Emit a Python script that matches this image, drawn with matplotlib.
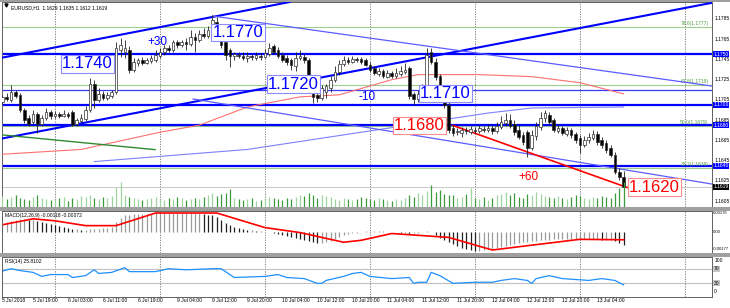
import numpy as np
import matplotlib.pyplot as plt
import matplotlib.transforms as mtransforms
from matplotlib.patches import Rectangle

# ============================================================
# EURUSD H1 chart (MT4 style) - price, volumes, MACD, RSI
# ============================================================

W, H = 730, 308

# ---- candles (bar index 0 = 5 Jul 11:00) ----
open_ = [1.17049, 1.17029, 1.17079, 1.17049, 1.17128, 1.17098, 1.16950, 1.16871, 1.16831, 1.16911,
         1.16812, 1.16871, 1.16930, 1.16891, 1.16911, 1.16891, 1.16911, 1.16930, 1.16812, 1.16841,
         1.16861, 1.16950, 1.17207, 1.17049, 1.17108, 1.17069, 1.17088, 1.17128, 1.17543, 1.17524,
         1.17543, 1.17346, 1.17415, 1.17445, 1.17415, 1.17435, 1.17445, 1.17484, 1.17524, 1.17563,
         1.17543, 1.17623, 1.17593, 1.17623, 1.17603, 1.17672, 1.17642, 1.17702, 1.17682, 1.17741,
         1.17820, 1.17761, 1.17623, 1.17543, 1.17484, 1.17494, 1.17484, 1.17464, 1.17484, 1.17464,
         1.17484, 1.17474, 1.17504, 1.17583, 1.17543, 1.17494, 1.17464, 1.17445, 1.17385, 1.17464,
         1.17474, 1.17445, 1.17247, 1.17098, 1.17069, 1.17128, 1.17168, 1.17247, 1.17326, 1.17405,
         1.17445, 1.17425, 1.17455, 1.17455, 1.17445, 1.17395, 1.17365, 1.17306, 1.17336, 1.17276,
         1.17316, 1.17286, 1.17306, 1.17326, 1.17365, 1.17108, 1.17059, 1.17108, 1.17118, 1.17524,
         1.17425, 1.17286, 1.17128, 1.16999, 1.16772, 1.16732, 1.16723, 1.16752, 1.16732, 1.16752,
         1.16742, 1.16762, 1.16752, 1.16772, 1.16742, 1.16782, 1.16821, 1.16851, 1.16812, 1.16752,
         1.16703, 1.16732, 1.16574, 1.16693, 1.16782, 1.16871, 1.16901, 1.16851, 1.16742, 1.16772,
         1.16713, 1.16752, 1.16713, 1.16673, 1.16604, 1.16653, 1.16673, 1.16713, 1.16653, 1.16624,
         1.16574, 1.16505, 1.16337, 1.16290]
close = [1.17029, 1.17079, 1.17059, 1.17128, 1.17088, 1.16950, 1.16851, 1.16812, 1.16911, 1.16812,
         1.16871, 1.16930, 1.16891, 1.16911, 1.16891, 1.16911, 1.16891, 1.16802, 1.16851, 1.16871,
         1.16950, 1.17207, 1.17049, 1.17108, 1.17069, 1.17098, 1.17128, 1.17563, 1.17593, 1.17563,
         1.17346, 1.17425, 1.17445, 1.17415, 1.17445, 1.17464, 1.17494, 1.17524, 1.17563, 1.17543,
         1.17623, 1.17593, 1.17623, 1.17603, 1.17672, 1.17642, 1.17702, 1.17682, 1.17741, 1.17840,
         1.17741, 1.17593, 1.17494, 1.17484, 1.17504, 1.17484, 1.17464, 1.17484, 1.17474, 1.17494,
         1.17474, 1.17514, 1.17563, 1.17524, 1.17484, 1.17445, 1.17425, 1.17395, 1.17464, 1.17484,
         1.17445, 1.17247, 1.17079, 1.17069, 1.17168, 1.17187, 1.17247, 1.17326, 1.17405, 1.17445,
         1.17425, 1.17455, 1.17445, 1.17425, 1.17395, 1.17346, 1.17316, 1.17336, 1.17286, 1.17316,
         1.17286, 1.17316, 1.17336, 1.17346, 1.17088, 1.17059, 1.17108, 1.17168, 1.17494, 1.17425,
         1.17276, 1.17098, 1.16999, 1.16752, 1.16723, 1.16742, 1.16752, 1.16742, 1.16762, 1.16742,
         1.16772, 1.16752, 1.16772, 1.16742, 1.16792, 1.16831, 1.16851, 1.16792, 1.16732, 1.16683,
         1.16634, 1.16574, 1.16703, 1.16792, 1.16871, 1.16920, 1.16831, 1.16752, 1.16772, 1.16723,
         1.16752, 1.16703, 1.16653, 1.16604, 1.16653, 1.16683, 1.16713, 1.16634, 1.16604, 1.16555,
         1.16505, 1.16337, 1.16288, 1.16190]
high = [1.17079, 1.17098, 1.17118, 1.17197, 1.17148, 1.17118, 1.16970, 1.16901, 1.16950, 1.16930,
        1.16901, 1.16970, 1.16950, 1.16940, 1.16930, 1.16950, 1.16930, 1.16950, 1.16871, 1.16911,
        1.16989, 1.17266, 1.17247, 1.17168, 1.17138, 1.17128, 1.17148, 1.17623, 1.17662, 1.17642,
        1.17583, 1.17464, 1.17464, 1.17474, 1.17464, 1.17494, 1.17543, 1.17563, 1.17593, 1.17593,
        1.17642, 1.17642, 1.17642, 1.17662, 1.17741, 1.17712, 1.17741, 1.17761, 1.17781, 1.17890,
        1.17870, 1.17791, 1.17642, 1.17563, 1.17524, 1.17524, 1.17524, 1.17524, 1.17504, 1.17524,
        1.17514, 1.17553, 1.17613, 1.17603, 1.17573, 1.17524, 1.17494, 1.17464, 1.17524, 1.17543,
        1.17504, 1.17464, 1.17266, 1.17128, 1.17197, 1.17207, 1.17286, 1.17385, 1.17445, 1.17484,
        1.17474, 1.17484, 1.17474, 1.17474, 1.17464, 1.17425, 1.17385, 1.17365, 1.17356, 1.17346,
        1.17336, 1.17365, 1.17385, 1.17415, 1.17385, 1.17128, 1.17148, 1.17207, 1.17563, 1.17563,
        1.17464, 1.17306, 1.17168, 1.17029, 1.16802, 1.16772, 1.16782, 1.16782, 1.16792, 1.16782,
        1.16802, 1.16792, 1.16812, 1.16802, 1.16831, 1.16891, 1.16920, 1.16911, 1.16851, 1.16802,
        1.16732, 1.16752, 1.16752, 1.16831, 1.16930, 1.16950, 1.16930, 1.16871, 1.16812, 1.16792,
        1.16782, 1.16772, 1.16732, 1.16703, 1.16693, 1.16723, 1.16752, 1.16742, 1.16683, 1.16653,
        1.16604, 1.16535, 1.16377, 1.16350]
low = [1.17009, 1.17009, 1.17039, 1.17029, 1.17069, 1.16930, 1.16821, 1.16792, 1.16812, 1.16723,
       1.16792, 1.16851, 1.16861, 1.16871, 1.16871, 1.16881, 1.16871, 1.16792, 1.16792, 1.16821,
       1.16841, 1.16930, 1.16970, 1.17029, 1.17049, 1.17049, 1.17069, 1.17108, 1.17474, 1.17464,
       1.17316, 1.17326, 1.17385, 1.17395, 1.17405, 1.17415, 1.17425, 1.17464, 1.17494, 1.17524,
       1.17524, 1.17563, 1.17573, 1.17543, 1.17583, 1.17524, 1.17623, 1.17662, 1.17662, 1.17722,
       1.17722, 1.17563, 1.17445, 1.17375, 1.17445, 1.17464, 1.17445, 1.17425, 1.17445, 1.17445,
       1.17445, 1.17464, 1.17484, 1.17504, 1.17464, 1.17425, 1.17395, 1.17346, 1.17336, 1.17445,
       1.17415, 1.17227, 1.17019, 1.17029, 1.17049, 1.17069, 1.17128, 1.17227, 1.17296, 1.17385,
       1.17405, 1.17415, 1.17425, 1.17405, 1.17385, 1.17326, 1.17296, 1.17286, 1.17266, 1.17266,
       1.17266, 1.17266, 1.17286, 1.17306, 1.17059, 1.16999, 1.17029, 1.17069, 1.17088, 1.17405,
       1.17247, 1.17079, 1.16970, 1.16723, 1.16693, 1.16703, 1.16683, 1.16713, 1.16713, 1.16723,
       1.16723, 1.16732, 1.16732, 1.16713, 1.16723, 1.16762, 1.16792, 1.16772, 1.16703, 1.16663,
       1.16604, 1.16485, 1.16555, 1.16653, 1.16752, 1.16831, 1.16802, 1.16732, 1.16723, 1.16703,
       1.16693, 1.16673, 1.16624, 1.16525, 1.16584, 1.16624, 1.16653, 1.16604, 1.16574, 1.16525,
       1.16485, 1.16317, 1.16258, 1.16120]

volume = [9, 11, 8, 10, 12, 9, 8, 7, 10, 12, 9, 8, 7, 8, 9, 10, 6, 9, 8, 11,
          10, 12, 9, 8, 10, 9, 11, 20, 25, 12, 10, 9, 8, 7, 8, 9, 10, 8, 7, 9,
          8, 10, 9, 7, 8, 9, 8, 10, 12, 14, 11, 13, 14, 18, 9, 8, 7, 8, 9, 6,
          7, 8, 10, 9, 8, 7, 9, 8, 10, 12, 11, 14, 12, 9, 12, 11, 10, 8, 7, 9,
          8, 7, 8, 10, 9, 8, 7, 9, 8, 7, 6, 8, 7, 9, 12, 10, 14, 12, 16, 22,
          15, 17, 13, 12, 12, 9, 10, 13, 19, 9, 8, 10, 7, 9, 12, 13, 15, 12, 14, 10,
          9, 13, 12, 15, 13, 11, 10, 9, 11, 9, 8, 10, 12, 11, 9, 8, 10, 9, 11, 10,
          9, 14, 19, 25]

# ---- MACD(12,26,9), in units of 1e-5 ----
macd_e5 = [72, 81, 90, 99, 108, 117, 117, 108, 108, 99, 90, 81, 72, 63, 54, 45, 36, 27, 27, 18,
           18, 27, 27, 27, 36, 36, 45, 90, 126, 153, 162, 171, 171, 171, 171, 171, 180, 180, 180, 180,
           180, 180, 180, 180, 180, 180, 180, 171, 162, 153, 135, 108, 81, 63, 45, 36, 27, 18, 18, 9,
           9, 0, 0, -9, -18, -27, -36, -45, -54, -63, -72, -81, -90, -99, -99, -90, -81, -63, -45, -27,
           -18, -9, -9, 0, 9, 9, 9, 9, 9, 0, 0, 0, -9, -9, -18, -9, -9, 0, 9, 0,
           -27, -54, -72, -90, -108, -126, -144, -162, -171, -180, -180, -171, -162, -153, -144, -135, -126, -117, -108, -99,
           -90, -90, -81, -81, -72, -72, -72, -63, -63, -63, -63, -63, -63, -63, -63, -63, -63, -63, -72, -72,
           -72, -81, -99, -118]
signal_idx = [0, 8, 13, 20, 27, 36, 50, 61, 69, 79, 83, 90, 103, 113, 122, 133, 143]
signal_val = [0.00059, 0.00122, 0.00104, 0.00059, 0.00059, 0.00176, 0.00176, 0.00041, -0.00005,
              -0.00095, -0.00077, -0.00014, -0.00050, -0.00167, -0.00122, -0.00068, -0.00072]

# ---- RSI(14) ----
rsi_idx = [0, 3, 5, 8, 10, 12, 16, 17, 20, 22, 23, 26, 29, 30, 36, 39, 43, 49, 51, 54,
           61, 64, 66, 70, 73, 74, 75, 79, 81, 83, 85, 90, 94, 95, 96, 98, 99, 101, 104, 109,
           113, 115, 118, 121, 122, 123, 126, 129, 135, 138, 141, 143]
rsi_val = [60, 70, 65, 60, 49, 54, 54, 46, 51, 67, 57, 60, 73, 62, 62, 70, 67, 70, 70, 46,
           49, 54, 46, 43, 30, 30, 38, 49, 57, 60, 49, 43, 46, 30, 33, 33, 60, 51, 30, 33,
           33, 38, 43, 38, 30, 43, 51, 43, 38, 43, 38, 25.8]

# ---- moving averages (sampled points) ----
ma_red_idx = [0, 19, 37, 46, 57, 69, 78, 90, 96, 110, 122, 133, 143]
ma_red_val = [1.1651, 1.1656, 1.1673, 1.1680, 1.1698, 1.1708, 1.1710, 1.1725, 1.1730, 1.1730,
              1.1728, 1.1722, 1.1711]
ma_blue_idx = [22, 57, 112, 122, 143]
ma_blue_val = [1.1644, 1.1656, 1.1692, 1.1697, 1.1698]

# ---- levels / objects ----
blue_levels = [1.1750, 1.1700, 1.1680, 1.1640]
blue_thin_level = 1.1715
fib_levels = [1.1777, 1.1720, 1.1679, 1.1638]
fib_texts = ['78.6(1.1777)', '61.8(1.1719)', '50.0(1.1679)', '38.2(1.1638)']
bid = 1.1619

# trend lines: (i0, p0, i1, p1)
channel_up_top = (0.5, 1.17464, 66.7, 1.18018)
channel_up_bot = (0.5, 1.16665, 163.2, 1.18010)
channel_dn_top = (49.1, 1.17879, 163.2, 1.17187)
channel_dn_bot = (44.6, 1.17059, 163.2, 1.16218)
green_line = (0.5, 1.16706, 35.9, 1.16558)
red_line = (104.0, 1.16797, 143.8, 1.16184)

labels_big = [(14.6, 1.17405, '1.1740', 'blue'), (49.1, 1.17716, '1.1770', 'blue'),
              (61.7, 1.17207, '1.1720', 'blue'), (96.5, 1.17113, '1.1710', 'blue'),
              (90.5, 1.16797, '1.1680', 'red'), (144.2, 1.16188, '1.1620', 'red')]
labels_pips = [(34.1, 1.17623, '+30', 'blue'), (82.3, 1.17079, '-10', 'blue'),
               (118.9, 1.16287, '+60', 'red')]

time_idx = [8, 16, 24, 32, 41, 49, 57, 65, 73, 81, 89, 97, 105, 113, 121, 129, 137]
time_txt = ['5 Jul 19:00', '6 Jul 03:00', '6 Jul 11:00', '6 Jul 19:00', '9 Jul 04:00',
            '9 Jul 12:00', '9 Jul 20:00', '10 Jul 04:00', '10 Jul 12:00', '10 Jul 20:00',
            '11 Jul 04:00', '11 Jul 12:00', '11 Jul 20:00', '12 Jul 04:00', '12 Jul 12:00',
            '12 Jul 20:00', '13 Jul 04:00']
day_sep = [13, 37, 61, 85, 109, 133, 157]
price_ticks = [1.1785, 1.1765, 1.1745, 1.1725, 1.1705, 1.1685, 1.1665, 1.1645, 1.1625, 1.1605]

# ============================================================
XLIM = (4 / 4.375, 714 / 4.375)
SMALL = 3.6
FONT = 'Liberation Sans'
BLUE = '#0000ff'


def px_rect(x0, y0, x1, y1):
    return [x0 / W, 1 - y1 / H, (x1 - x0) / W, (y1 - y0) / H]


def style_panel(ax):
    ax.set_xlim(*XLIM)
    ax.set_xticks([])
    ax.set_yticks([])
    for s in ax.spines.values():
        s.set_color('#606060')
        s.set_linewidth(0.7)
    for d in day_sep:
        ax.axvline(d, color='#707070', lw=0.6, ls=(0, (1.5, 1.5)), zorder=1)


plt.rcParams['font.family'] = [FONT, 'DejaVu Sans']
fig = plt.figure(figsize=(W / 100, H / 100), dpi=100)
fig.patch.set_facecolor('white')

ax = fig.add_axes(px_rect(2, 2, 712, 207))
ax_v = fig.add_axes(px_rect(2, 2, 712, 207), sharex=ax)
ax_m = fig.add_axes(px_rect(2, 211, 712, 253))
ax_r = fig.add_axes(px_rect(2, 257, 712, 297))

# panel separators
for y0, y1 in [(0, 2), (207, 211), (253, 257)]:
    fig.add_artist(Rectangle((0, 1 - y1 / H), 1, (y1 - y0) / H, transform=fig.transFigure,
                             color='#a0a0a0', lw=0))

# ---------------- main panel ----------------
style_panel(ax)
ax.set_ylim(1.15991, 1.18018)
x = np.arange(len(close))

# volumes (overlay)
ax_v.set_ylim(0, 205)
ax_v.axis('off')
vcol = ['#9fd39f' if c >= o else '#3c9a3c' for o, c in zip(open_, close)]
ax_v.vlines(x, 0, volume, colors=vcol, lw=0.9)

# horizontal levels
for p in fib_levels:
    ax.axhline(p, color='#9ccf8c', lw=0.8, zorder=2)
for p in blue_levels:
    ax.axhline(p, color=BLUE, lw=1.6, zorder=2)
ax.axhline(blue_thin_level, color='#3a3aff', lw=0.9, zorder=2)
ax.axhline(bid, color='#c8c8c8', lw=0.7, zorder=1)

tr = mtransforms.blended_transform_factory(ax.transAxes, ax.transData)
for p, t in zip(fib_levels, fib_texts):
    ax.text(0.995, p + 0.00008, t, transform=tr, ha='right', va='bottom', fontsize=SMALL,
            color='#4f9f3f')

# moving averages
ax.plot(ma_red_idx, ma_red_val, color='#ff7070', lw=0.8, zorder=3)
ax.plot(ma_blue_idx, ma_blue_val, color='#7f7fff', lw=0.8, zorder=3)

# trend lines
for (i0, p0, i1, p1), c, lw in [(channel_up_top, BLUE, 1.5), (channel_up_bot, BLUE, 1.5),
                                 (channel_dn_top, '#5c5cff', 0.9), (channel_dn_bot, '#5c5cff', 0.9),
                                 (green_line, '#2e8b2e', 1.0), (red_line, '#ff0000', 1.2)]:
    ax.plot([i0, i1], [p0, p1], color=c, lw=lw, zorder=3)

# candles
for i, (o, h, l, c) in enumerate(zip(open_, high, low, close)):
    ax.vlines(i, l, h, color='#202020', lw=0.6, zorder=4)
    bull = c >= o
    ax.bar(i, max(abs(c - o), 0.00004), bottom=min(o, c), width=0.62,
           color='white' if bull else 'black', edgecolor='#303030', lw=0.5, zorder=5)

# big labels
for i0, p, t, c in labels_big:
    ec = '#8c8cff' if c == 'blue' else '#ff8c8c'
    ax.text(i0, p, t, ha='left', va='center', fontsize=12, color=c, zorder=8,
            bbox=dict(boxstyle='square,pad=0.08', fc='white', ec=ec, lw=0.8))
for i0, p, t, c in labels_pips:
    ax.text(i0, p, t, ha='left', va='center', fontsize=8.5, color=c, zorder=8)

ax.text(0.012, 0.985, 'EURUSD,H1  1.1629 1.1635 1.1612 1.1619', transform=ax.transAxes,
        ha='left', va='top', fontsize=SMALL, color='black')
ax.plot([0.005], [0.983], marker='v', ms=2.2, color='black', transform=ax.transAxes, clip_on=False)

# right price scale
for p in price_ticks:
    ax.text(1.003, p, f'{p:.4f}', transform=tr, ha='left', va='center', fontsize=SMALL, clip_on=False)
for p in blue_levels:
    ax.text(1.002, p, f'{p:.4f}', transform=tr, ha='left', va='center', fontsize=SMALL, color='white',
            clip_on=False, bbox=dict(boxstyle='square,pad=0.12', fc=BLUE, ec=BLUE, lw=0))
ax.text(1.002, bid, f'{bid:.4f}', transform=tr, ha='left', va='center', fontsize=SMALL, color='white',
        clip_on=False, bbox=dict(boxstyle='square,pad=0.12', fc='black', ec='black', lw=0))

# ---------------- MACD ----------------
style_panel(ax_m)
ax_m.set_ylim(-0.001946, 0.001946)
macd = np.array(macd_e5) * 1e-5
mcol = ['#202020' if k > 0 and macd[k] < macd[k - 1] else '#9a9a9a' for k in range(len(macd))]
ax_m.vlines(x, 0, macd, colors=mcol, lw=0.9)
ax_m.plot(signal_idx, signal_val, color='#ff0000', lw=1.2)
ax_m.text(0.004, 0.96, 'MACD(12,26,9) -0.00118 -0.00072', transform=ax_m.transAxes,
          ha='left', va='top', fontsize=SMALL)
trm = mtransforms.blended_transform_factory(ax_m.transAxes, ax_m.transData)
for v, t, va in [(0.00176, '0.00176', 'center'), (0.0, '0.00', 'center'), (-0.00177, '-0.00177', 'bottom')]:
    ax_m.text(1.0015, v, t, transform=trm, ha='left', va=va, fontsize=3.0, clip_on=False)

# ---------------- RSI ----------------
style_panel(ax_r)
ax_r.set_ylim(-7.3, 102)
for lv in [70, 30]:
    ax_r.axhline(lv, color='#c0c0c0', lw=0.8)
ax_r.plot(rsi_idx, rsi_val, color='#1e90ff', lw=0.9)
ax_r.text(0.004, 0.95, 'RSI(14) 25.8102', transform=ax_r.transAxes, ha='left', va='top', fontsize=SMALL)
trr = mtransforms.blended_transform_factory(ax_r.transAxes, ax_r.transData)
ax_r.text(1.003, 99, '100', transform=trr, ha='left', va='top', fontsize=SMALL, clip_on=False)
ax_r.text(1.003, 1, '0', transform=trr, ha='left', va='bottom', fontsize=SMALL, clip_on=False)
for lv in [70, 30]:
    ax_r.text(1.002, lv, str(lv), transform=trr, ha='left', va='center', fontsize=SMALL, color='black',
              clip_on=False, bbox=dict(boxstyle='square,pad=0.12', fc='#c8c8c8', ec='#c8c8c8', lw=0))

# time axis
trx = mtransforms.blended_transform_factory(ax_r.transData, fig.transFigure)
fig.text(2 / W, 1 - 301 / H, '5 Jul 2018', ha='left', va='center', fontsize=SMALL)
for i0, t in zip(time_idx, time_txt):
    ax_r.text(i0, 1 - 301 / H, t, transform=trx, ha='left', va='center', fontsize=SMALL, clip_on=False)

fig.savefig('out.png', dpi=100)
